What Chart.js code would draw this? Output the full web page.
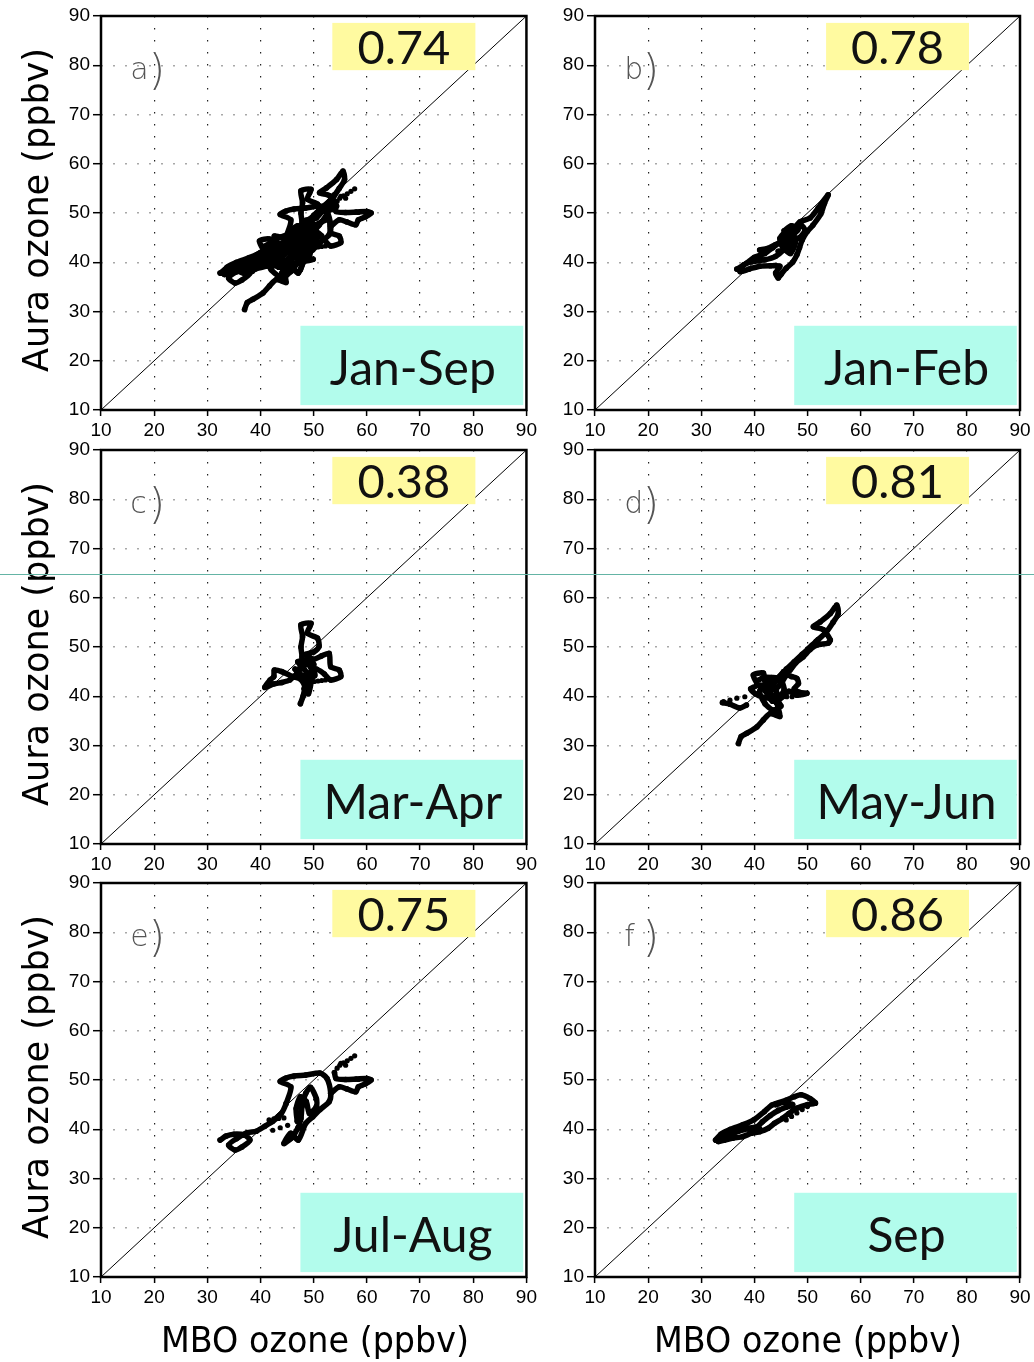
<!DOCTYPE html>
<html>
<head>
<meta charset="utf-8">
<script src="https://cdn.jsdelivr.net/npm/chart.js@4.4.1/dist/chart.umd.min.js"></script>
<style>
html,body{margin:0;padding:0;background:#fff;}
#wrap{position:relative;width:1034px;height:1362px;overflow:hidden;background:#fff;}
#wrap canvas{position:absolute;}
</style>
</head>
<body>
<div id="wrap">
<canvas id="p0" width="540" height="440" style="left:0px;top:0px"></canvas>
<canvas id="p1" width="540" height="440" style="left:494px;top:0px"></canvas>
<canvas id="p2" width="540" height="440" style="left:0px;top:434px"></canvas>
<canvas id="p3" width="540" height="440" style="left:494px;top:434px"></canvas>
<canvas id="p4" width="540" height="440" style="left:0px;top:867px"></canvas>
<canvas id="p5" width="540" height="440" style="left:494px;top:867px"></canvas>
<canvas id="overlay" width="1034" height="1362" style="left:0;top:0;pointer-events:none"></canvas>
</div>
<script>
// ---------------- data ----------------
const tickLabels = [10, 20, 30, 40, 50, 60, 70, 80, 90];
const panelLetters = ['a)', 'b)', 'c)', 'd)', 'e)', 'f)'];
const correlations = ['0.74', '0.78', '0.38', '0.81', '0.75', '0.86'];
const periods = ['Jan-Sep', 'Jan-Feb', 'Mar-Apr', 'May-Jun', 'Jul-Aug', 'Sep'];
const xTitle = 'MBO ozone (ppbv)';
const yTitle = 'Aura ozone (ppbv)';
const oneToOne = [[10, 10], [90, 90]];

// Jan-Feb trajectory (MBO, Aura)
const janFebPath = [[36.7,38.6],[38.5,39.8],[40,41],[42,41.8],[43.5,43],[45,44.2],[46,45.5],[47.5,47],[48.6,48.2],[50.5,49],[52,51],[53.9,53.7],[53.2,52],[52.5,49.8],[51,47.5],[50,46.3],[49,44.5],[48.5,43],[48,41.5],[47.2,40],[46,38.8],[45,37.5],[44.5,36.8],[44,37.8],[44.8,39.2],[43,39.3],[41,39.2],[39,38.6],[37.3,38.1],[38,39.5],[40,40.2],[42,40.5],[44,41.2],[45.5,42.5],[46.5,44],[47.5,45.8],[48.8,47.5],[49.5,46.5],[48.5,45],[47,44.5],[45.5,44],[44,43.6],[42.5,42.8],[41,42.5]];
const janFebCore = [[44.5,42.2],[46,42.6],[47.4,43.6],[46.6,45.2],[45.2,43.4],[46.8,41.8],[47.8,44.6],[46.2,46.3],[44.8,44.8],[46,43.8],[47.2,45.6],[48.2,46.6],[47,47.4],[45.6,46.4]];
const janFebDots = [];

// Mar-Apr
const marAprPath = [[47.5,38.5],[48,40],[48.3,42],[47.5,43.5],[46,44],[44,45],[42.6,45.3],[42.5,44],[41.8,43.3],[40.8,41.8],[42.5,42.5],[44,42.8],[45.5,43.3],[46.8,44.6],[47.5,46],[47.8,48],[47.6,50],[47.9,52.1],[47.6,54.5],[49.5,54.8],[48.8,52.8],[50.7,51.8],[51,50.1],[50,49],[48.5,48.5],[50,47.5],[51.5,48.2],[52.9,48.7],[53.2,46],[54.8,45.3],[55.1,44],[53.2,43.3],[52,44.5],[50.5,45.5],[49.5,44],[48.6,42],[49,40.5],[49.5,43.5],[48.2,45.5],[47,47],[48.5,47.2],[50,46.5],[49.2,42.5],[48.2,41.5]];
const marAprCore = [[46.5,45.5],[48,44.2],[49.6,45.2],[48.8,46.6],[47.2,45.2],[48.4,43.6],[50.2,44.2],[49.2,47.8],[47.8,46.6]];
const marAprDots = [[50.1,43.0],[50.8,43.1],[51.5,43.2],[52.2,43.3],[52.9,43.5]];

// May-Jun
const mayJunPath = [[37.0,30.4],[37.5,31.8],[38.6,32.5],[40.5,33.8],[41.7,35.2],[43,36.5],[44.8,35.9],[44.5,37.5],[44.2,38.6],[43,39.5],[41.5,39.8],[40.2,40.5],[39.3,41.5],[40.5,42.3],[39.8,44.3],[41.7,44.7],[42,43],[43,42],[42.5,41],[44,41.5],[45,42.5],[46.1,44.3],[47,44],[48,43.6],[48.3,42.6],[47.5,41.5],[48.5,40.8],[49.9,40.6],[48,40.2],[46.5,41],[45.5,40],[44.5,39],[45,38],[43.5,37.2],[42,38.5],[41,41],[42.5,42.8],[44,43],[45.5,45],[46.7,45.3],[47.8,46.8],[49.2,48],[50.5,49.5],[51.8,50.4],[53.9,50.8],[54.3,51.4],[53,53.5],[51.1,54.1],[52.4,55.1],[54.3,56.8],[55.5,58.5],[55.8,56.8],[54.8,55],[53.5,53],[52,51.5],[50.5,50],[49,48.5],[47.5,47],[46,45.5]];
const mayJunCore = [[41.2,42.2],[42.8,40.2],[44.2,40.4],[43.6,42.4],[42,41.6],[43.4,39],[44.6,39.8],[45.6,41.4],[44.8,43.6],[43.2,43.8],[41.8,43.8],[40.6,43.2]];
const mayJunLeft = [[34.0,38.7],[35.4,38.4],[37.2,37.6],[38.5,38.2]];
const mayJunDots = [[34.2,38.9],[35.4,39.2],[36.7,39.6],[38.2,39.9],[46.1,39.9],[47.1,39.9],[50.0,49.6],[50.8,50.4],[51.6,51.2]];

// Jul-Aug
const julAugPath = [[32.4,37.8],[33.5,38.6],[35,39],[37,38.8],[38,37.8],[36.5,36.4],[35.2,35.8],[34,36.8],[35.5,38.1],[37.5,39.3],[39.2,39.6],[40.8,40.6],[42.3,41.6],[43.8,43],[44.8,45.2],[45.7,48.6],[43.7,49.7],[44.8,50.4],[46.3,50.8],[48.5,51],[51.2,51.4],[52.5,50.3],[53.2,47.3],[52.9,45.6],[51.2,44],[49.8,42.5],[48.5,41.2],[47.1,37.8],[45.7,39.2],[44.4,37.1],[45.8,38.2],[47,40.2],[47.6,42.2],[47.8,44.6],[48.5,47.3],[49.4,48.5],[50.5,46.2],[50.5,44.6],[49.2,43.2],[48.6,45.6],[47.5,46.6],[46.7,44.2],[46.9,41.6]];
const julAugArm = [[53.9,51.5],[54.2,50.3],[56,50.1],[58,50.2],[60,50.3],[60.8,50],[59.7,49.2],[58.4,48.6],[57.9,47.6],[56.2,48.2],[54.8,48.6],[53.2,47.3]];
const julAugDots = [[54.4,52.4],[55.1,53.4],[56.0,53.0],[54.9,53.0],[55.6,53.5],[56.3,53.9],[57.0,54.4],[57.7,54.9],[56.8,50.1],[57.6,50.1],[58.4,50.1],[41.6,41.9],[42.5,42.1],[43.4,42.2],[44.4,42.3],[42.3,39.8],[43.7,40.3],[45.1,40.8]];

// Sep
const sepPath = [[32.7,37.8],[33.7,39],[35.5,40],[37.8,40.9],[39.9,41.9],[41.9,43.6],[43.3,44.9],[46,45.9],[47.5,46.6],[48.8,47],[50.5,46.2],[51.5,45.3],[50,45],[48.1,44.3],[46.5,43.2],[45.3,42.2],[43.8,41.2],[42.6,40.2],[41,39.5],[39.5,39.2],[37.8,38.5],[36,38.2],[34.4,37.8],[33.2,37.5],[35,38.8],[37,39.6],[39,40.2],[40.5,40.5],[41.5,41.5],[43,42.8],[44.5,43.8],[46,44.5],[47.2,45],[45.5,45.5],[44,45]];
const sepDots = [[44,45.2],[45,45.4],[46,44.9],[46,41.9],[47,42.6],[48,43.3],[49,44],[50,44.6],[40,39.5],[41,40.2]];

// ---------------- chart building ----------------
const toXY = arr => arr.map(p => ({x: p[0], y: p[1]}));
const pathDs = arr => ({type:'scatter', data: toXY(arr), showLine:true, borderColor:'#000', backgroundColor:'#000',
  borderWidth:5.5, pointRadius:2.8, pointBorderWidth:0, tension:0.25, borderJoinStyle:'round', borderCapStyle:'round'});
const dotDs = arr => ({type:'scatter', data: toXY(arr), showLine:false, backgroundColor:'#000', borderColor:'#000',
  pointRadius:2.6, pointBorderWidth:0});

const panelSeries = [
  null,
  [[janFebPath, janFebCore],[janFebDots]],
  [[marAprPath, marAprCore],[marAprDots]],
  [[mayJunPath, mayJunCore, mayJunLeft],[mayJunDots]],
  [[julAugPath, julAugArm],[julAugDots]],
  [[sepPath],[sepDots]]
];
// Jan-Sep = union of all sub-periods
panelSeries[0] = [
  [janFebPath, janFebCore, marAprPath, marAprCore, mayJunPath, mayJunCore, mayJunLeft, julAugPath, julAugArm, sepPath],
  [janFebDots, marAprDots, mayJunDots, julAugDots, sepDots]
];

const YELLOW = 'rgb(255,250,160)';
const CYAN = 'rgb(178,252,236)';

const framePlugin = {
  id: 'frame',
  afterDraw(chart) {
    const o = chart.options.plugins.frame;
    const {ctx, chartArea: a, scales: {x, y}} = chart;
    ctx.save();
    let x1 = x.getPixelForValue(53.5), x2 = x.getPixelForValue(80.4);
    let y1 = y.getPixelForValue(88.6), y2 = y.getPixelForValue(79.0);
    ctx.fillStyle = YELLOW;
    ctx.fillRect(x1, y1, x2 - x1, y2 - y1);
    ctx.fillStyle = '#111';
    ctx.font = '47px Lato';
    ctx.textAlign = 'center';
    ctx.textBaseline = 'alphabetic';
    ctx.fillText(o.corr, (x1 + x2) / 2, y1 + 41);
    x1 = x.getPixelForValue(47.5); x2 = x.getPixelForValue(89.4);
    y1 = y.getPixelForValue(27.1); y2 = y.getPixelForValue(11.0);
    ctx.fillStyle = CYAN;
    ctx.fillRect(x1, y1, x2 - x1, y2 - y1);
    ctx.fillStyle = '#111';
    ctx.font = '48px Lato';
    ctx.fillText(o.period, (x1 + x2) / 2 + 1, y1 + 59);
    ctx.fillStyle = '#555';
    ctx.textAlign = 'left';
    ctx.font = '300 30px "DejaVu Sans"';
    ctx.fillText(o.letter.charAt(0), x.getPixelForValue(15.5), y.getPixelForValue(77.2));
    ctx.font = '200 42px "DejaVu Sans"';
    ctx.fillText(')', x.getPixelForValue(19.0), y.getPixelForValue(76.0));
    ctx.strokeStyle = '#000';
    ctx.lineWidth = 2.5;
    ctx.strokeRect(a.left, a.top, a.right - a.left, a.bottom - a.top);
    ctx.restore();
  }
};

function makeAxis(isX) {
  return {
    type: 'linear',
    min: 10, max: 90,
    afterBuildTicks: s => { s.ticks = tickLabels.map(v => ({value: v})); },
    afterFit: s => { if (isX) s.height = 30; else s.width = 101; },
    border: {display: false, dash: isX ? [1.4, 10.6] : [2, 10]},
    grid: {
      color: c => (c.tick && (c.tick.value === 10 || c.tick.value === 90)) ? 'rgba(0,0,0,0)' : (isX ? '#222' : '#a8a8a8'),
      lineWidth: isX ? 1.2 : 1.4,
      drawTicks: true,
      tickLength: isX ? 6 : 8,
      tickColor: '#000',
      tickWidth: 1.5,
      tickBorderDash: []
    },
    ticks: {
      color: '#000',
      padding: isX ? 3 : 3,
      font: {family: '"Liberation Sans", Arial, sans-serif', size: 19},
      maxRotation: 0,
      autoSkip: false,
      callback: v => String(v)
    }
  };
}

for (let i = 0; i < 6; i++) {
  const [paths, dots] = panelSeries[i];
  const datasets = [];
  paths.forEach(p => datasets.push(pathDs(p)));
  dots.forEach(d => datasets.push(dotDs(d)));
  datasets.push({type:'scatter', data: toXY(oneToOne), showLine:true, borderColor:'#000', borderWidth:1,
    pointRadius:0, tension:0});
  const right = (i % 2 === 0) ? 12 : 14;
  new Chart(document.getElementById('p' + i), {
    type: 'scatter',
    data: {datasets},
    options: {
      responsive: false,
      animation: false,
      devicePixelRatio: 1,
      layout: {padding: {top: 16, right: right, left: 0, bottom: 0}},
      plugins: {
        legend: {display: false},
        tooltip: {enabled: false},
        frame: {corr: correlations[i], period: periods[i], letter: panelLetters[i]}
      },
      scales: {x: makeAxis(true), y: makeAxis(false)}
    },
    plugins: [framePlugin]
  });
}

// ---------------- overlay: axis titles and stray line ----------------
const ov = document.getElementById('overlay').getContext('2d');
ov.fillStyle = '#000';
ov.font = '36px "DejaVu Sans"';
ov.textAlign = 'center';
ov.textBaseline = 'alphabetic';
function stretchText(txt, cx, cy, target, rot) {
  const w = ov.measureText(txt).width;
  ov.save();
  ov.translate(cx, cy);
  if (rot) ov.rotate(-Math.PI / 2);
  ov.scale(target / w, 1);
  ov.fillText(txt, 0, 0);
  ov.restore();
}
[210, 644, 1077].forEach(cy => stretchText(yTitle, 48, cy, 324, true));
[315, 808].forEach(cx => stretchText(xTitle, cx, 1352, 308, false));
ov.fillStyle = 'rgb(100,180,165)';
ov.fillRect(0, 574, 1034, 1);
</script>
</body>
</html>
